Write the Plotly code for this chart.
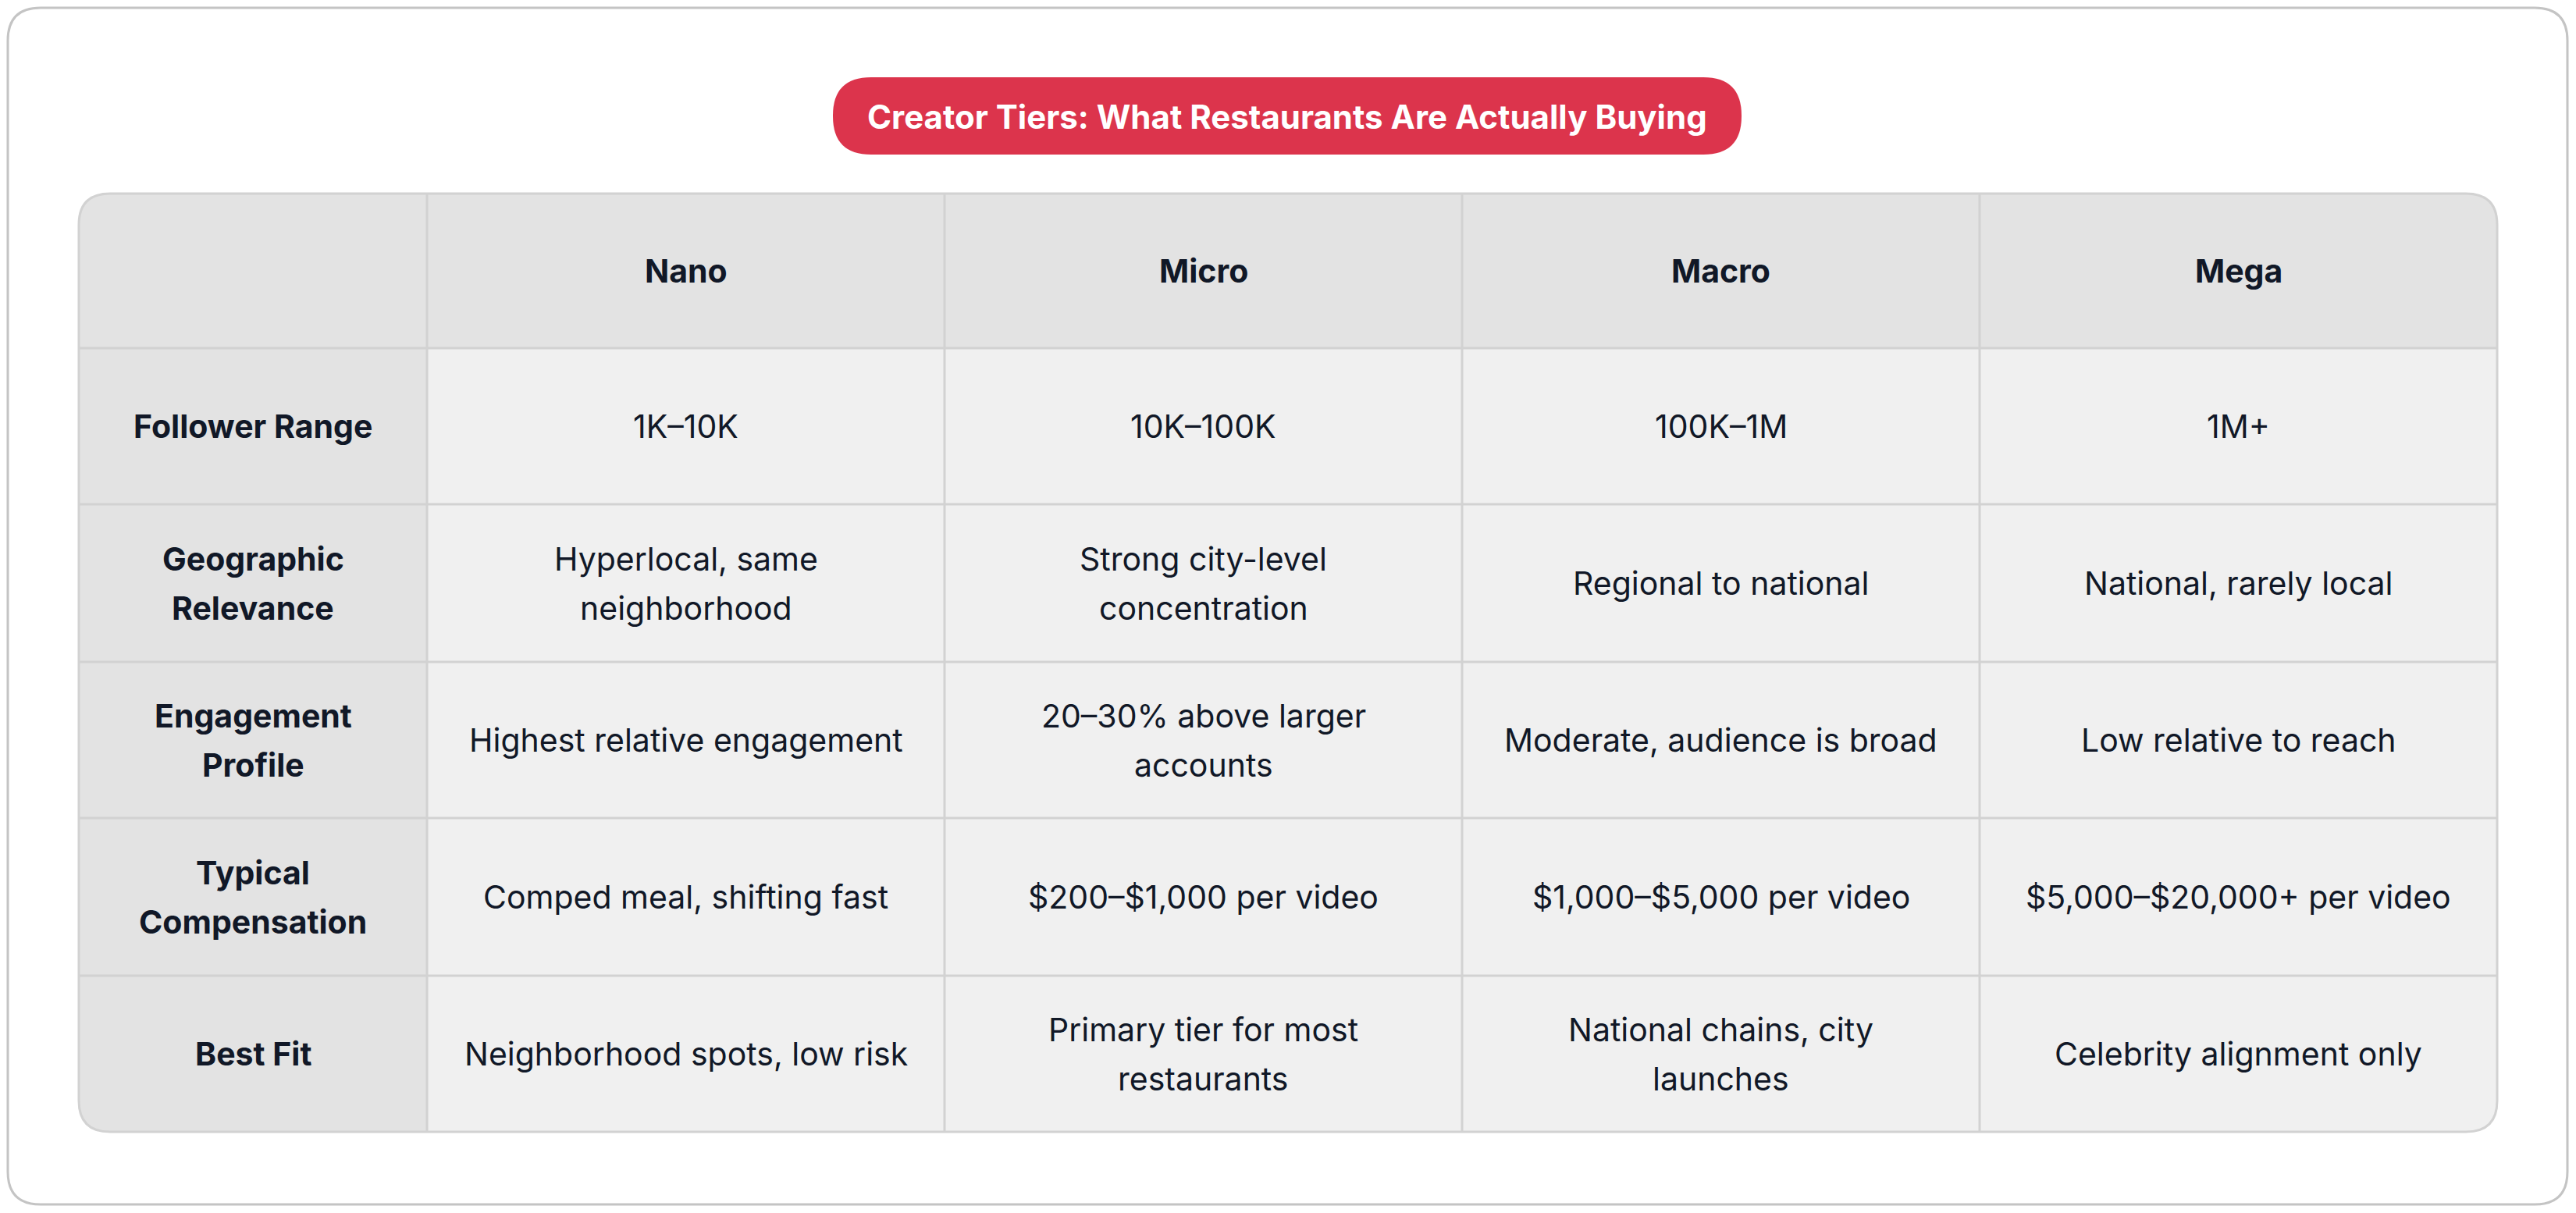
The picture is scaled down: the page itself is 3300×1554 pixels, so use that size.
import plotly.graph_objects as go

tiers = ["Nano", "Micro", "Macro", "Mega"]
row_labels = ["Follower Range", "Geographic\nRelevance", "Engagement\nProfile", "Typical\nCompensation", "Best Fit"]
cells = [
    ["1K–10K", "10K–100K", "100K–1M", "1M+"],
    ["Hyperlocal, same\nneighborhood", "Strong city-level\nconcentration", "Regional to national", "National, rarely local"],
    ["Highest relative engagement", "20–30% above larger\naccounts", "Moderate, audience is broad", "Low relative to reach"],
    ["Comped meal, shifting fast", "$200–$1,000 per video", "$1,000–$5,000 per video", "$5,000–$20,000+ per video"],
    ["Neighborhood spots, low risk", "Primary tier for most\nrestaurants", "National chains, city\nlaunches", "Celebrity alignment only"],
]
title = "Creator Tiers: What Restaurants Are Actually Buying"

W, H = 3300, 1554
OFF = 8  # page body margin
xs = [101, 547, 1210, 1873, 2536, 3199]
ys = [248, 446, 646, 848, 1048, 1250, 1450]
R = 40
FONT = "Inter, Noto Sans, sans-serif"
TXT = "#111827"
HDR = "#e3e3e3"
BODY = "#f0f0f0"
GRID = "#d2d2d2"
FS = 41

def rrect(x0, y0, x1, y1, r):
    return (f"M{x0+r},{y0} L{x1-r},{y0} Q{x1},{y0} {x1},{y0+r} L{x1},{y1-r} Q{x1},{y1} {x1-r},{y1} "
            f"L{x0+r},{y1} Q{x0},{y1} {x0},{y1-r} L{x0},{y0+r} Q{x0},{y0} {x0+r},{y0} Z")

shapes = []
shapes.append(dict(type="path", path=rrect(OFF+2, OFF+2, W-OFF-3, H-OFF-3, 42), fillcolor="white",
                   line=dict(color="#c4c4c4", width=3), layer="below"))
for r in range(len(ys)-1):
    for c in range(len(xs)-1):
        fill = HDR if (r == 0 or c == 0) else BODY
        shapes.append(dict(type="rect", x0=xs[c], x1=xs[c+1], y0=ys[r], y1=ys[r+1],
                           fillcolor=fill, line=dict(width=0), layer="below"))
for x in xs[1:-1]:
    shapes.append(dict(type="line", x0=x, x1=x, y0=ys[0], y1=ys[-1], line=dict(color=GRID, width=3)))
for y in ys[1:-1]:
    shapes.append(dict(type="line", x0=xs[0], x1=xs[-1], y0=y, y1=y, line=dict(color=GRID, width=3)))
x0, x1, y0, y1 = xs[0], xs[-1], ys[0], ys[-1]
masks = [
    f"M{x0-2},{y0-2} L{x0+R},{y0-2} L{x0+R},{y0} Q{x0},{y0} {x0},{y0+R} L{x0-2},{y0+R} Z",
    f"M{x1+2},{y0-2} L{x1-R},{y0-2} L{x1-R},{y0} Q{x1},{y0} {x1},{y0+R} L{x1+2},{y0+R} Z",
    f"M{x0-2},{y1+2} L{x0+R},{y1+2} L{x0+R},{y1} Q{x0},{y1} {x0},{y1-R} L{x0-2},{y1-R} Z",
    f"M{x1+2},{y1+2} L{x1-R},{y1+2} L{x1-R},{y1} Q{x1},{y1} {x1},{y1-R} L{x1+2},{y1-R} Z",
]
for m in masks:
    shapes.append(dict(type="path", path=m, fillcolor="white", line=dict(width=0)))
shapes.append(dict(type="path", path=rrect(x0, y0, x1, y1, R), line=dict(color=GRID, width=3)))
shapes.append(dict(type="path", path=rrect(1067, 99, 2231, 198, 49), fillcolor="#dc344c", line=dict(width=0)))

annotations = []
LH = 63
def add_text(txt, cx, cy, bold, size=FS, color=TXT):
    lines = txt.split("\n")
    n = len(lines)
    for i, ln in enumerate(lines):
        yy = cy + (i - (n-1)/2) * LH
        t = f"<b>{ln}</b>" if bold else ln
        annotations.append(dict(x=cx, y=yy, text=t, showarrow=False, xanchor="center", yanchor="middle",
                                font=dict(family=FONT, size=size, color=color)))

add_text(title, (1067+2231)/2, 149, True, 42, "white")
for c, t in enumerate(tiers):
    add_text(t, (xs[c+1]+xs[c+2])/2, (ys[0]+ys[1])/2, True)
for r, lab in enumerate(row_labels):
    cy = (ys[r+1]+ys[r+2])/2
    add_text(lab, (xs[0]+xs[1])/2, cy, True)
    for c, v in enumerate(cells[r]):
        add_text(v, (xs[c+1]+xs[c+2])/2, cy, False)

fig = go.Figure()
fig.add_trace(go.Scatter(x=[OFF, W-OFF], y=[OFF, H-OFF], mode="markers", marker=dict(opacity=0),
                         hoverinfo="skip", showlegend=False))
fig.update_layout(width=W-2*OFF, height=H-2*OFF, margin=dict(l=0, r=0, t=0, b=0),
                  paper_bgcolor="white", plot_bgcolor="white",
                  xaxis=dict(range=[OFF, W-OFF], visible=False, fixedrange=True),
                  yaxis=dict(range=[H-OFF, OFF], visible=False, fixedrange=True),
                  shapes=shapes, annotations=annotations)
fig.write_html("out.html", config={"displayModeBar": False})
